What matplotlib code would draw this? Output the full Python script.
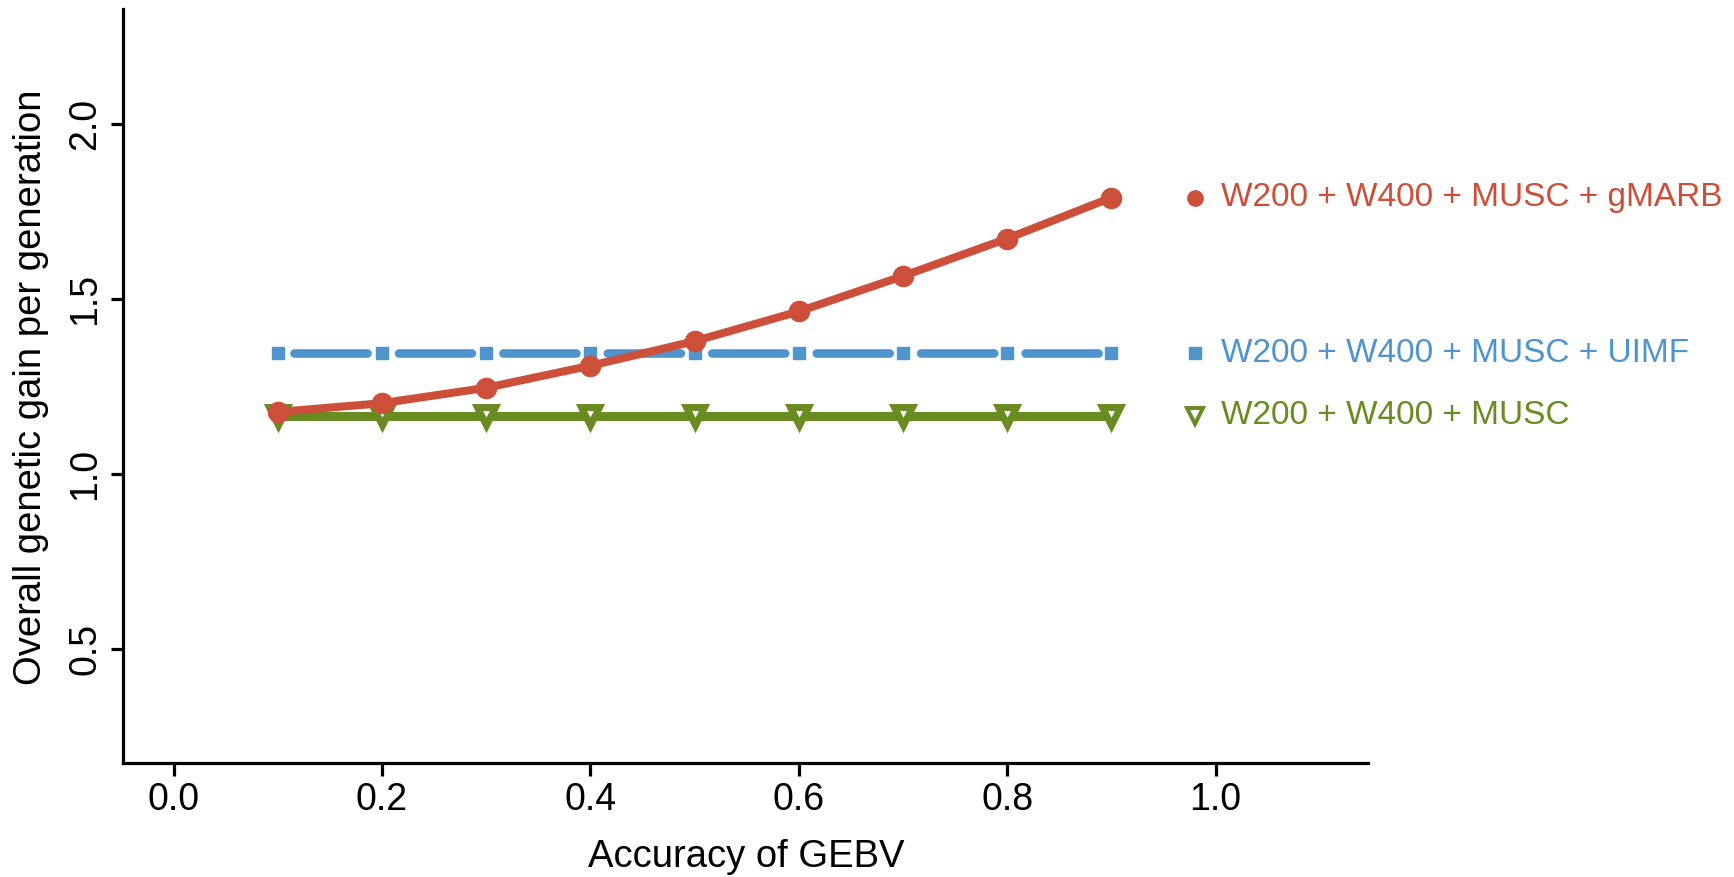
import matplotlib
matplotlib.use("Agg")
import matplotlib.pyplot as plt

plt.rcParams["lines.scale_dashes"] = False
FONT = "Liberation Sans"

accuracy = [0.1, 0.2, 0.3, 0.4, 0.5, 0.6, 0.7, 0.8, 0.9]
gain_gmarb = [1.177, 1.202, 1.246, 1.309, 1.379, 1.464, 1.565, 1.672, 1.789]
gain_uimf = [1.344] * 9
gain_musc = [1.166] * 9

labels = ["W200 + W400 + MUSC + gMARB", "W200 + W400 + MUSC + UIMF", "W200 + W400 + MUSC"]
colors = ["#CD4F39", "#4F94CD", "#698B22"]
xticks = [0.0, 0.2, 0.4, 0.6, 0.8, 1.0]
yticks = [0.5, 1.0, 1.5, 2.0]

fig = plt.figure(figsize=(17.34, 8.77), dpi=100)
ax = fig.add_axes([0.0708, 0.130, 0.718, 0.860])

ax.plot(accuracy, gain_musc, color=colors[2], lw=6.5, marker="v", ms=12.5,
        mfc="white", mec=colors[2], mew=5, zorder=3, solid_capstyle="round")
ax.plot(accuracy, gain_uimf, color=colors[1], lw=6.2, marker="s", ms=8.3,
        mfc=colors[1], mec=colors[1], linestyle=(63.7, (52.6, 22.6)),
        dash_capstyle="round", zorder=3)
ax.plot(accuracy, gain_gmarb, color=colors[0], lw=5.8, marker="o", ms=14.5,
        mfc=colors[0], mec=colors[0], zorder=4, solid_capstyle="round")

# end labels
ends = [gain_gmarb[-1], gain_uimf[-1], gain_musc[-1]]
mk = ["o", "s", "v"]
for lab, c, yv, m in zip(labels, colors, ends, mk):
    if m == "v":
        ax.plot([0.98], [yv], marker=m, ms=11, mfc="white", mec=c, mew=2.8,
                ls="none", clip_on=False)
    elif m == "s":
        ax.plot([0.98], [yv], marker=m, ms=8, color=c, ls="none", clip_on=False)
    else:
        ax.plot([0.98], [yv], marker=m, ms=11, color=c, ls="none", clip_on=False)
    ax.text(1.005, yv, lab, color=c, fontsize=24, family=FONT,
            va="center", ha="left")

ax.set_xlim(-0.0487, 1.146)
ax.set_ylim(0.175, 2.328)
ax.set_xticks(xticks)
ax.set_xticklabels([f"{v:.1f}" for v in xticks])
ax.set_yticks(yticks)
ax.set_yticklabels([f"{v:.1f}" for v in yticks], rotation=90, va="center")

for s in ["top", "right"]:
    ax.spines[s].set_visible(False)
for s in ["left", "bottom"]:
    ax.spines[s].set_linewidth(2.3)
ax.tick_params(axis="x", direction="out", length=9, width=2.3,
               labelsize=27, pad=5)
ax.tick_params(axis="y", direction="out", length=9, width=2.3,
               labelsize=27, pad=5)
for t in ax.get_xticklabels() + ax.get_yticklabels():
    t.set_family(FONT)

ax.set_xlabel("Accuracy of GEBV", fontsize=27.5, family=FONT, va="center")
ax.set_ylabel("Overall genetic gain per generation", fontsize=27.5, family=FONT,
              va="center")
ax.xaxis.set_label_coords(0.5006, -0.1247)
ax.yaxis.set_label_coords(-0.0737, 0.4987)

fig.savefig("out.png", dpi=100)
